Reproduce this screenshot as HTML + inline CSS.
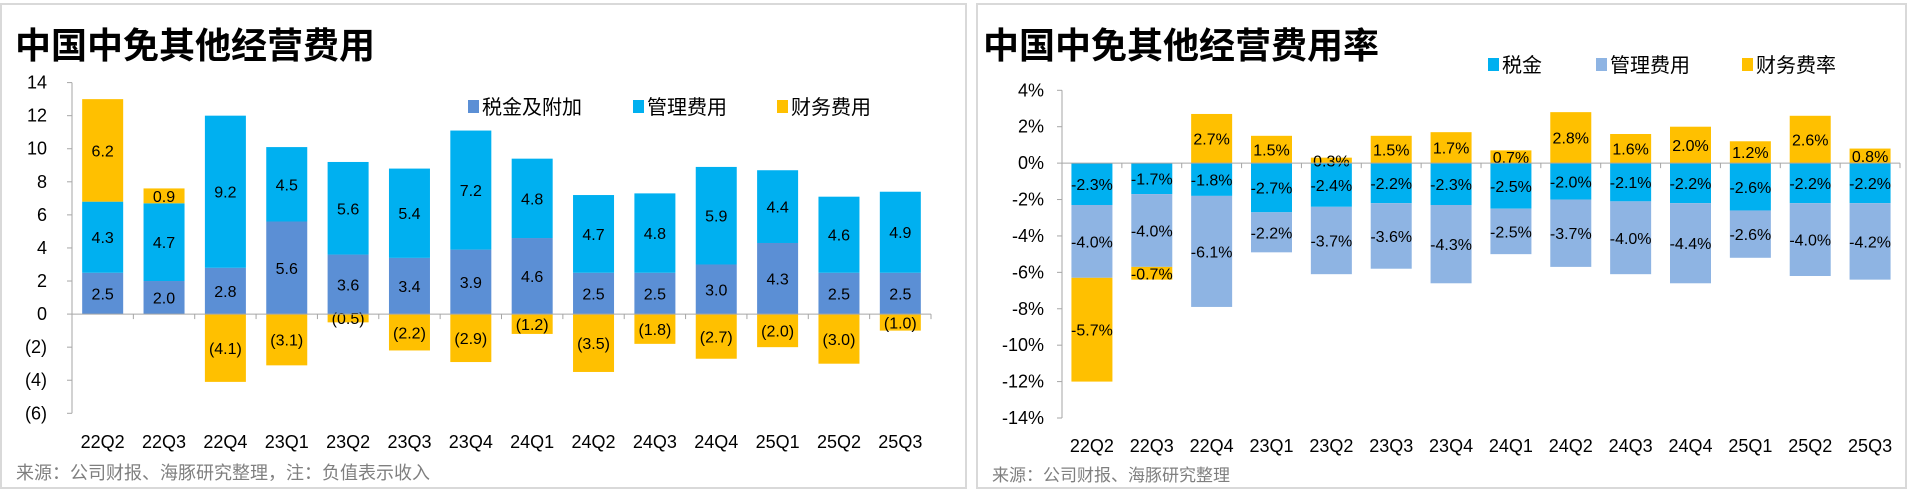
<!DOCTYPE html>
<html><head><meta charset="utf-8">
<style>
html,body{margin:0;padding:0;background:#fff;}
svg{display:block;font-family:"Liberation Sans","Noto Sans CJK SC",sans-serif;}
</style></head>
<body>
<svg id="c" width="1908" height="491" viewBox="0 0 1908 491">
<rect x="1" y="4" width="965" height="484" fill="#fff" stroke="#d9d9d9" stroke-width="2"/>
<rect x="977" y="4" width="929" height="484" fill="#fff" stroke="#d9d9d9" stroke-width="2"/>
<text x="15" y="58" font-size="36" font-weight="bold" fill="#000">中国中免其他经营费用</text>
<text x="983" y="58" font-size="36" font-weight="bold" fill="#000">中国中免其他经营费用率</text>
<text x="16" y="479" font-size="18" fill="#7f7f7f">来源：公司财报、海豚研究整理，注：负值表示收入</text>
<text x="992" y="481" font-size="17" fill="#7f7f7f">来源：公司财报、海豚研究整理</text>
<g id="left"></g>
<g id="right"></g>
</svg>
<script>
const categories = ["22Q2","22Q3","22Q4","23Q1","23Q2","23Q3","23Q4","24Q1","24Q2","24Q3","24Q4","25Q1","25Q2","25Q3"];
const leftTax = [2.5,2.0,2.8,5.6,3.6,3.4,3.9,4.6,2.5,2.5,3.0,4.3,2.5,2.5];
const leftMgmt = [4.3,4.7,9.2,4.5,5.6,5.4,7.2,4.8,4.7,4.8,5.9,4.4,4.6,4.9];
const leftFin = [6.2,0.9,-4.1,-3.1,-0.5,-2.2,-2.9,-1.2,-3.5,-1.8,-2.7,-2.0,-3.0,-1.0];
const leftTicks = [14,12,10,8,6,4,2,0,-2,-4,-6];
const rightTax = [-2.3,-1.7,-1.8,-2.7,-2.4,-2.2,-2.3,-2.5,-2.0,-2.1,-2.2,-2.6,-2.2,-2.2];
const rightMgmt = [-4.0,-4.0,-6.1,-2.2,-3.7,-3.6,-4.3,-2.5,-3.7,-4.0,-4.4,-2.6,-4.0,-4.2];
const rightFin = [-5.7,-0.7,2.7,1.5,0.3,1.5,1.7,0.7,2.8,1.6,2.0,1.2,2.6,0.8];
const rightTicks = [4,2,0,-2,-4,-6,-8,-10,-12,-14];

const NS="http://www.w3.org/2000/svg";
function mk(parent,tag,attrs,text){const e=document.createElementNS(NS,tag);for(const k in attrs)e.setAttribute(k,attrs[k]);if(text!==undefined)e.textContent=text;parent.appendChild(e);return e;}

function drawChart(g,cfg){
  const y=v=>cfg.y0+(cfg.yTop-v)*(cfg.y1-cfg.y0)/(cfg.yTop-cfg.yBot);
  const n=categories.length, step=(cfg.xR-cfg.xL)/n, bw=41;
  const xc=i=>cfg.xL+step*(i+0.5);
  let a=mk(g,'line',{x1:cfg.xL,x2:cfg.xL,y1:y(cfg.yTop),y2:y(cfg.yBot),stroke:'#a6a6a6','stroke-width':1});
  
  
  cfg.ticks.forEach(t=>{
    let tl=mk(g,'line',{x1:cfg.xL-5,x2:cfg.xL,y1:y(t),y2:y(t),stroke:'#a6a6a6'});
    
    
    let tx=mk(g,'text',{x:cfg.labX,y:y(t)+6,'font-size':18,'text-anchor':'end',fill:'#000'},cfg.fmtTick(t));
    
    
  });
  categories.forEach((c,i)=>{
    let pos=0,neg=0;
    cfg.series.forEach(s=>{
      const v=s.data[i];
      let b0,b1;
      if(v>=0){b0=pos;b1=pos+v;pos=b1;}else{b0=neg;b1=neg+v;neg=b1;}
      const top=Math.min(y(b0),y(b1)),h=Math.abs(y(b1)-y(b0));
      let r=mk(g,'rect',{x:xc(i)-bw/2,y:top,width:bw,height:h,fill:s.color});
      
      
      let lab=mk(g,'text',{x:xc(i),y:top+h/2+6,'font-size':16,'text-anchor':'middle',fill:'#000'},cfg.fmtVal(v));
      
      
    });
    let xl=mk(g,'text',{x:xc(i),y:cfg.xLabY,'font-size':18,'text-anchor':'middle',fill:'#000'},c);
    
    
    let tk=mk(g,'line',{x1:cfg.xL+step*(i+1),x2:cfg.xL+step*(i+1),y1:y(0),y2:y(0)+5,stroke:'#a6a6a6'});
    
    
  });
  let z=mk(g,'line',{x1:cfg.xL,x2:cfg.xR,y1:y(0),y2:y(0),stroke:'#a6a6a6'});
  
  
  cfg.series.forEach((s,k)=>{
    let sq=mk(g,'rect',{x:cfg.legX[k],y:cfg.legY-7,width:11,height:13,fill:s.color});
    
    
    let t=mk(g,'text',{x:cfg.legX[k]+14,y:cfg.legY+7,'font-size':20,fill:'#000'},s.name);
    
    
  });
}
const p1=v=>v<0?'('+Math.abs(v).toFixed(1)+')':v.toFixed(1);
drawChart(document.getElementById('left'),{
  xL:72,xR:931,yTop:14,yBot:-6,y0:82.6,y1:413.3,labX:47,xLabY:448,
  ticks:leftTicks,fmtTick:t=>t<0?'('+(-t)+')':String(t),fmtVal:p1,
  legX:[468,633,777],legY:107,
  series:[{key:'tax',name:'税金及附加',color:'#5B8FD5',data:leftTax},
          {key:'mgmt',name:'管理费用',color:'#00B0F0',data:leftMgmt},
          {key:'fin',name:'财务费用',color:'#FFC000',data:leftFin}]
});
drawChart(document.getElementById('right'),{
  xL:1062,xR:1900,yTop:4,yBot:-14,y0:90.3,y1:418,labX:1044,xLabY:452,
  ticks:rightTicks,fmtTick:t=>t+'%',fmtVal:v=>v.toFixed(1)+'%',
  legX:[1488,1596,1742],legY:65,
  series:[{key:'tax',name:'税金',color:'#00B0F0',data:rightTax},
          {key:'mgmt',name:'管理费用',color:'#8EB4E3',data:rightMgmt},
          {key:'fin',name:'财务费率',color:'#FFC000',data:rightFin}]
});
</script>
</body></html>
